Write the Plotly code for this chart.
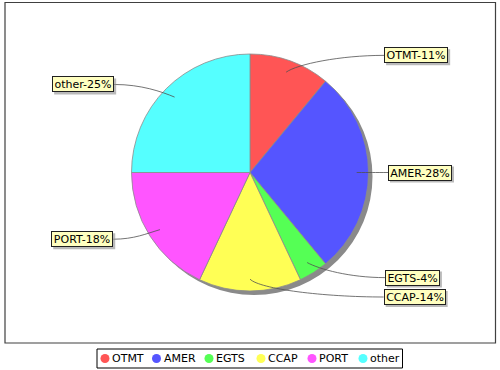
import math
import plotly.graph_objects as go

# Share of each segment (percent), in drawing order, clockwise from 12 o'clock
categories = ["OTMT", "AMER", "EGTS", "CCAP", "PORT", "other"]
shares = [11, 28, 4, 14, 18, 25]
colors = ["#FF5555", "#5555FF", "#55FF55", "#FFFF55", "#FF55FF", "#55FFFF"]

W, H = 500, 370
CX, CY, R = 250.0, 172.5, 118.5          # pie centre / radius in pixels
SHADOW = 4                               # pie shadow offset
FONT = "DejaVu Sans"
FS = 11

# approximate DejaVu Sans advance widths (em) for sizing the label boxes
CHAR_W = {"O": .787, "T": .611, "M": .863, "-": .361, "%": .950, "A": .684,
          "E": .632, "R": .695, "G": .775, "S": .635, "C": .698, "P": .603,
          "o": .612, "t": .392, "h": .634, "e": .615, "r": .411}


def text_width(s):
    return sum(CHAR_W.get(c, .636) for c in s) * FS


def px_domain(cx, cy, r):
    return dict(x=[(cx - r) / W, (cx + r) / W],
                y=[1 - (cy + r) / H, 1 - (cy - r) / H])


fig = go.Figure()

# drop shadow under the pie
fig.add_trace(go.Pie(values=[1], labels=["shadow"], sort=False,
                     marker=dict(colors=["#8a8a8a"], line=dict(width=0)),
                     domain=px_domain(CX + SHADOW, CY + SHADOW, R),
                     textinfo="none", hoverinfo="skip", showlegend=False))

fig.add_trace(go.Pie(values=shares, labels=categories, sort=False,
                     direction="clockwise", rotation=0,
                     marker=dict(colors=colors, line=dict(color="#8c8c8c", width=0.8)),
                     domain=px_domain(CX, CY, R),
                     textinfo="none", showlegend=False))

shapes = []
annotations = []

# outer frame
shapes.append(dict(type="rect", xref="x", yref="y", x0=5, y0=2.5, x1=495.5, y1=343,
                   line=dict(color="#404040", width=1.2), fillcolor="rgba(0,0,0,0)",
                   layer="above"))

# section labels with curved link lines
BOX_H = 12
PAD, BW = 1, 1
total = float(sum(shares))
cum = 0.0
for name, v in zip(categories, shares):
    theta = math.radians((cum + v / 2.0) / total * 360.0)
    cum += v
    sx, sy = math.sin(theta), -math.cos(theta)        # radial unit vector (screen)
    side = 1 if sx >= -1e-9 else -1
    link_x, link_y = CX + 0.9 * R * sx, CY + 0.9 * R * sy
    ty = CY + 124.5 * sy
    dy = ty - CY
    tx = CX + side * 138.0 * math.sqrt(max(0.0, 1 - (dy / 500.0) ** 2))

    bx, by = sx + side, sy
    bn = math.hypot(bx, by)
    p1x, p1y = link_x + 14 * bx / bn, link_y + 14 * by / bn
    p2x, p2y = tx - side * 0.45 * abs(tx - link_x), ty
    shapes.append(dict(type="path", xref="x", yref="y", layer="above",
                       path=f"M {link_x:.2f},{link_y:.2f} C {p1x:.2f},{p1y:.2f} "
                            f"{p2x:.2f},{p2y:.2f} {tx:.2f},{ty:.2f}",
                       line=dict(color="#505050", width=0.8)))

    text = f"{name}-{v}%"
    tw = round(text_width(text))
    outer_w = tw + 2 * (PAD + BW)
    outer_h = BOX_H + 2 * (PAD + BW)
    left = tx if side > 0 else tx - outer_w
    top = ty - outer_h / 2.0
    # label shadow
    shapes.append(dict(type="rect", xref="x", yref="y", layer="above",
                       x0=left + 2, x1=left + outer_w + 2, y0=top + 2, y1=top + outer_h + 2,
                       line=dict(width=0), fillcolor="rgba(140,140,140,0.6)"))
    annotations.append(dict(x=tx, y=ty, xref="x", yref="y", text=text, showarrow=False,
                            xanchor="left" if side > 0 else "right", yanchor="middle",
                            width=tw, height=BOX_H, align="center",
                            font=dict(family=FONT, size=FS, color="black"),
                            bgcolor="#FFFFC0", bordercolor="#202020",
                            borderwidth=BW, borderpad=PAD))

# legend
legend_x = [105, 156.5, 209, 261, 312, 363]
legend_y = 358.5
shapes.append(dict(type="rect", xref="x", yref="y", x0=97, y0=349, x1=402.5, y1=368,
                   line=dict(color="black", width=1), fillcolor="rgba(0,0,0,0)",
                   layer="below"))
fig.add_trace(go.Scatter(x=legend_x, y=[legend_y] * len(legend_x), mode="markers",
                         marker=dict(size=9, color=colors, line=dict(width=0)),
                         hoverinfo="skip", showlegend=False, cliponaxis=False))
for name, lx in zip(categories, legend_x):
    annotations.append(dict(x=lx + 5, y=legend_y, xref="x", yref="y", text=name,
                            showarrow=False, xanchor="left", yanchor="middle",
                            font=dict(family=FONT, size=FS, color="black")))

fig.update_layout(
    width=W, height=H, margin=dict(l=0, r=0, t=0, b=0),
    paper_bgcolor="white", plot_bgcolor="rgba(0,0,0,0)",
    xaxis=dict(range=[0, W], visible=False, fixedrange=True),
    yaxis=dict(range=[H, 0], visible=False, fixedrange=True),
    shapes=shapes, annotations=annotations, showlegend=False,
)

fig.write_html("out.html")
